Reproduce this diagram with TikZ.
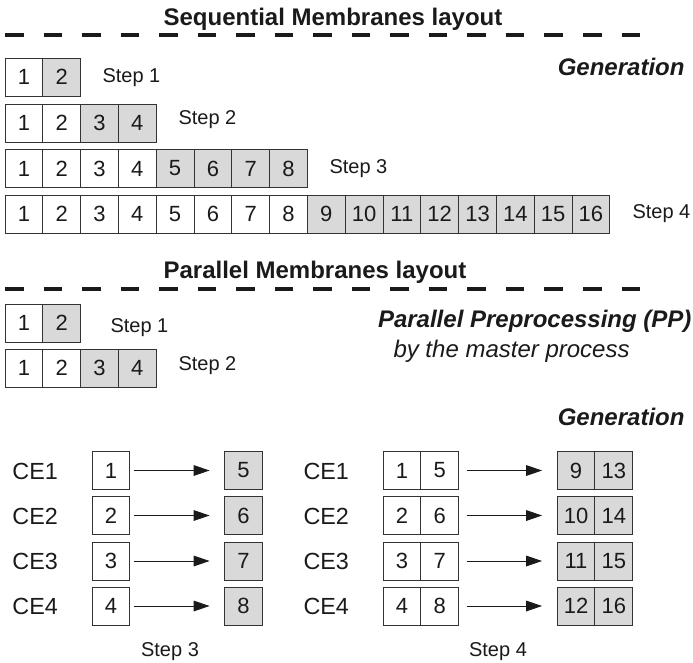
\documentclass[tikz,border=0pt]{standalone}
\usepackage{fontspec}
\setmainfont{Liberation Sans}
\usetikzlibrary{positioning,arrows.meta}

\definecolor{lineclr}{RGB}{51,51,51}
\definecolor{txtclr}{RGB}{26,26,26}
\definecolor{cellfill}{RGB}{217,217,217}

\tikzset{every picture/.style={line width=0.75pt}}
\tikzset{
  cell/.style={draw=lineclr, text=txtclr, minimum width=28.35pt, minimum height=28.5pt,
    inner sep=0pt, outer sep=0pt, font=\fontsize{16.5}{19}\selectfont},
  cellg/.style={cell, fill=cellfill},
  titletxt/.style={text=txtclr, inner sep=0pt, anchor=base, font=\bfseries\fontsize{18}{22}\selectfont},
  gentxt/.style={text=txtclr, inner sep=0pt, anchor=base east, font=\bfseries\itshape\fontsize{18}{22}\selectfont},
  steptxt/.style={text=txtclr, inner sep=0pt, anchor=base west, font=\fontsize{15}{18}\selectfont},
  cetxt/.style={text=txtclr, inner sep=0pt, anchor=base west, font=\fontsize{17.5}{21}\selectfont},
  sepline/.style={draw=txtclr, line width=3pt, dash pattern=on 13.9pt off 15pt},
  arr/.style={draw=txtclr, -{Triangle[length=12pt,width=8pt]}, shorten >=11.25pt}
}

\begin{document}
\begin{tikzpicture}[x=0.75pt,y=0.75pt,yscale=-1,xscale=1]
\useasboundingbox (0,0) rectangle (693,662);

% Text Node
\node [titletxt] (seqtitle) at (333,25) {Sequential Membranes layout};
%Straight Lines
\draw [sepline] (5,35) -- (640,35);
% Text Node
\node [gentxt] (seqgen) at (685,75) {Generation};

%Sequential, step 1
\node [cell] (q1c1) at (23.9,77) {1};
\node [cellg, right=0pt of q1c1] (q1c2) {2};
\node [steptxt] (q1lbl) at (102,82) {Step 1};

%Sequential, step 2
\node [cell] (q2c1) at (23.9,123) {1};
\node [cell, right=0pt of q2c1] (q2c2) {2};
\node [cellg, right=0pt of q2c2] (q2c3) {3};
\node [cellg, right=0pt of q2c3] (q2c4) {4};
\node [steptxt] (q2lbl) at (178,124) {Step 2};

%Sequential, step 3
\node [cell] (q3c1) at (23.9,168.5) {1};
\node [cell, right=0pt of q3c1] (q3c2) {2};
\node [cell, right=0pt of q3c2] (q3c3) {3};
\node [cell, right=0pt of q3c3] (q3c4) {4};
\node [cellg, right=0pt of q3c4] (q3c5) {5};
\node [cellg, right=0pt of q3c5] (q3c6) {6};
\node [cellg, right=0pt of q3c6] (q3c7) {7};
\node [cellg, right=0pt of q3c7] (q3c8) {8};
\node [steptxt] (q3lbl) at (329,173) {Step 3};

%Sequential, step 4
\node [cell] (q4c1) at (23.9,214) {1};
\node [cell, right=0pt of q4c1] (q4c2) {2};
\node [cell, right=0pt of q4c2] (q4c3) {3};
\node [cell, right=0pt of q4c3] (q4c4) {4};
\node [cell, right=0pt of q4c4] (q4c5) {5};
\node [cell, right=0pt of q4c5] (q4c6) {6};
\node [cell, right=0pt of q4c6] (q4c7) {7};
\node [cell, right=0pt of q4c7] (q4c8) {8};
\node [cellg, right=0pt of q4c8] (q4c9) {9};
\node [cellg, right=0pt of q4c9] (q4c10) {10};
\node [cellg, right=0pt of q4c10] (q4c11) {11};
\node [cellg, right=0pt of q4c11] (q4c12) {12};
\node [cellg, right=0pt of q4c12] (q4c13) {13};
\node [cellg, right=0pt of q4c13] (q4c14) {14};
\node [cellg, right=0pt of q4c14] (q4c15) {15};
\node [cellg, right=0pt of q4c15] (q4c16) {16};
\node [steptxt] (q4lbl) at (632,218) {Step 4};

% Text Node
\node [titletxt] (partitle) at (315,278) {Parallel Membranes layout};
%Straight Lines
\draw [sepline] (5,289) -- (640,289);

%Parallel, step 1
\node [cell] (p1c1) at (23.9,323) {1};
\node [cellg, right=0pt of p1c1] (p1c2) {2};
\node [steptxt] (p1lbl) at (110,332) {Step 1};

%Parallel, step 2
\node [cell] (p2c1) at (23.9,368) {1};
\node [cell, right=0pt of p2c1] (p2c2) {2};
\node [cellg, right=0pt of p2c2] (p2c3) {3};
\node [cellg, right=0pt of p2c3] (p2c4) {4};
\node [steptxt] (p2lbl) at (178,370) {Step 2};

% Text Node
\node [gentxt] (pptxt) at (692,327) {Parallel Preprocessing (PP)};
\node [steptxt, font=\itshape\fontsize{18}{22}\selectfont] (mastertxt) at (393,357) {by the master process};
\node [gentxt] (pargen) at (685,425) {Generation};

%Step 3, one membrane per CE
\node [cetxt] (ce1a) at (12,479) {CE1};
\node [cetxt] (ce2a) at (12,524) {CE2};
\node [cetxt] (ce3a) at (12,569) {CE3};
\node [cetxt] (ce4a) at (12,614) {CE4};
\node [cell] (t3s1) at (111,470.5) {1};
\node [cell] (t3s2) at (111,515.5) {2};
\node [cell] (t3s3) at (111,561) {3};
\node [cell] (t3s4) at (111,606) {4};
\node [cellg] (t3d1) at (243.5,470.5) {5};
\node [cellg] (t3d2) at (243.5,515.5) {6};
\node [cellg] (t3d3) at (243.5,561) {7};
\node [cellg] (t3d4) at (243.5,606) {8};
%Straight Lines
\draw [arr, shorten <=3pt] (t3s1) -- (t3d1);
\draw [arr, shorten <=3pt] (t3s2) -- (t3d2);
\draw [arr, shorten <=3pt] (t3s3) -- (t3d3);
\draw [arr, shorten <=3pt] (t3s4) -- (t3d4);
\node [steptxt, anchor=base] (t3lbl) at (170,656) {Step 3};

%Step 4, two membranes per CE
\node [cetxt] (ce1b) at (303,479) {CE1};
\node [cetxt] (ce2b) at (303,524) {CE2};
\node [cetxt] (ce3b) at (303,569) {CE3};
\node [cetxt] (ce4b) at (303,614) {CE4};
\node [cell] (t4s1a) at (402,470.5) {1};
\node [cell, right=0pt of t4s1a] (t4s1b) {5};
\node [cell] (t4s2a) at (402,515.5) {2};
\node [cell, right=0pt of t4s2a] (t4s2b) {6};
\node [cell] (t4s3a) at (402,561) {3};
\node [cell, right=0pt of t4s3a] (t4s3b) {7};
\node [cell] (t4s4a) at (402,606) {4};
\node [cell, right=0pt of t4s4a] (t4s4b) {8};
\node [cellg] (t4d1a) at (576,470.5) {9};
\node [cellg, right=0pt of t4d1a] (t4d1b) {13};
\node [cellg] (t4d2a) at (576,515.5) {10};
\node [cellg, right=0pt of t4d2a] (t4d2b) {14};
\node [cellg] (t4d3a) at (576,561) {11};
\node [cellg, right=0pt of t4d3a] (t4d3b) {15};
\node [cellg] (t4d4a) at (576,606) {12};
\node [cellg, right=0pt of t4d4a] (t4d4b) {16};
%Straight Lines
\draw [arr, shorten <=6pt] (t4s1b) -- (t4d1a);
\draw [arr, shorten <=6pt] (t4s2b) -- (t4d2a);
\draw [arr, shorten <=6pt] (t4s3b) -- (t4d3a);
\draw [arr, shorten <=6pt] (t4s4b) -- (t4d4a);
\node [steptxt, anchor=base] (t4lbl) at (498,656) {Step 4};

\end{tikzpicture}
\end{document}
